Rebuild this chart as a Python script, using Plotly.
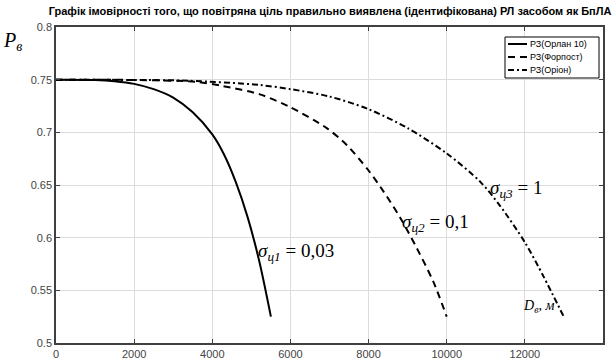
import plotly.graph_objects as go

# Data
x1 = [0, 1000, 1500, 2000, 2500, 3000, 3500, 4000, 4300, 4600, 4900, 5200, 5500]
y1 = [0.75, 0.7497, 0.7485, 0.746, 0.741, 0.733, 0.719, 0.698, 0.679, 0.653, 0.620, 0.578, 0.525]

x2 = [0, 2000, 3577, 4260, 5218, 5990, 6930, 7440, 7995, 8380, 8810, 9235, 9660, 10000]
y2 = [0.75, 0.7497, 0.748, 0.744, 0.736, 0.724, 0.704, 0.688, 0.664, 0.644, 0.619, 0.590, 0.558, 0.525]

x3 = [0, 2000, 3400, 5200, 6000, 7000, 8000, 9000, 10000, 10860, 11370, 12010, 12480, 12995]
y3 = [0.75, 0.7497, 0.749, 0.745, 0.741, 0.734, 0.722, 0.704, 0.680, 0.653, 0.630, 0.595, 0.563, 0.525]

names = ["РЗ(Орлан 10)", "РЗ(Форпост)", "РЗ(Оріон)"]
dashes = ["solid", "7px,5px", "6px,3px,2px,3px"]
title = "Графік імовірності того, що повітряна ціль правильно виявлена (ідентифікована) РЛ засобом як БпЛА"

x_ticks = [0, 2000, 4000, 6000, 8000, 10000, 12000, 14000]
y_ticks = [0.5, 0.55, 0.6, 0.65, 0.7, 0.75, 0.8]
y_tick_text = ["0.5", "0.55", "0.6", "0.65", "0.7", "0.75", "0.8"]

fig = go.Figure()
for xs, ys, nm, ds in zip([x1, x2, x3], [y1, y2, y3], names, dashes):
    fig.add_trace(go.Scatter(x=xs, y=ys, mode="lines", name=nm, showlegend=False,
                             line=dict(color="black", width=2, dash=ds, shape="spline", smoothing=0.8)))

serif = "Liberation Serif, Times New Roman, serif"
sans = "Liberation Sans, Arial, sans-serif"
annotations = []
for xv, yv, txt in [(5120, 0.5866, "<i>σ<sub>ц1</sub></i> = 0,03"),
                    (8800, 0.6136, "<i>σ<sub>ц2</sub></i> = 0,1"),
                    (11050, 0.646, "<i>σ<sub>ц3</sub></i> = 1")]:
    annotations.append(dict(x=xv, y=yv, xref="x", yref="y", text=txt,
                            xanchor="left", yanchor="middle", showarrow=False,
                            font=dict(family=serif, size=19, color="black")))
annotations.append(dict(x=11900, y=0.5346, xref="x", yref="y", text="<i>D<sub>в</sub>, м</i>",
                        xanchor="left", yanchor="middle", showarrow=False,
                        font=dict(family=serif, size=14, color="black")))
annotations.append(dict(x=-0.08, y=0.955, xref="paper", yref="paper", text="<i>P<sub>в</sub></i>",
                        xanchor="center", yanchor="middle", showarrow=False,
                        font=dict(family=serif, size=20, color="black")))

# custom compact legend (box + sample lines + names)
shapes = []
W, H = 616, 361
ml, mr, mt, mb = 56, 13, 27, 18
pw, ph = W - ml - mr, H - mt - mb
def px2paper(px, py):
    return (px - ml) / pw, (H - mb - py) / ph
bx0, by0 = px2paper(505, 37)
bx1, by1 = px2paper(599, 78)
shapes.append(dict(type="rect", xref="paper", yref="paper", x0=bx0, y0=by1, x1=bx1, y1=by0,
                   line=dict(color="black", width=1), fillcolor="white", layer="above"))
for i, (nm, ds) in enumerate(zip(names, dashes)):
    yy = 44 + i * 13
    lx0, ly = px2paper(508, yy)
    lx1, _ = px2paper(527, yy)
    shapes.append(dict(type="line", xref="paper", yref="paper", x0=lx0, y0=ly, x1=lx1, y1=ly,
                       line=dict(color="black", width=2, dash=ds), layer="above"))
    tx, _ = px2paper(528, yy)
    annotations.append(dict(x=tx, y=ly, xref="paper", yref="paper", text=nm, showarrow=False,
                            xanchor="left", yanchor="middle",
                            font=dict(family=sans, size=9, color="black")))

fig.update_layout(
    width=W, height=H,
    margin=dict(l=ml, r=mr, t=mt, b=mb),
    paper_bgcolor="white", plot_bgcolor="white",
    title=dict(text="<b>" + title + "</b>", x=0.501, xanchor="center", y=0.968, yanchor="middle",
               xref="paper",
               font=dict(family=sans, size=11, color="black")),
    showlegend=False,
    annotations=annotations,
    shapes=shapes,
)
fig.update_xaxes(range=[0, 14000], tickvals=x_ticks, ticktext=[str(v) for v in x_ticks],
                 showgrid=True, gridcolor="#dcdcdc", gridwidth=1, automargin=False,
                 showline=True, linecolor="#404040", linewidth=1.5, mirror="ticks",
                 ticks="inside", ticklen=4, tickcolor="#404040",
                 tickfont=dict(family=sans, size=11, color="#444"),
                 zeroline=False)
fig.update_yaxes(range=[0.5, 0.8], tickvals=y_ticks, ticktext=y_tick_text,
                 showgrid=True, gridcolor="#dcdcdc", gridwidth=1, automargin=False,
                 showline=True, linecolor="#404040", linewidth=1.5, mirror="ticks",
                 ticks="inside", ticklen=4, tickcolor="#404040",
                 tickfont=dict(family=sans, size=11, color="#444"),
                 zeroline=False)

fig.write_html("out.html")
